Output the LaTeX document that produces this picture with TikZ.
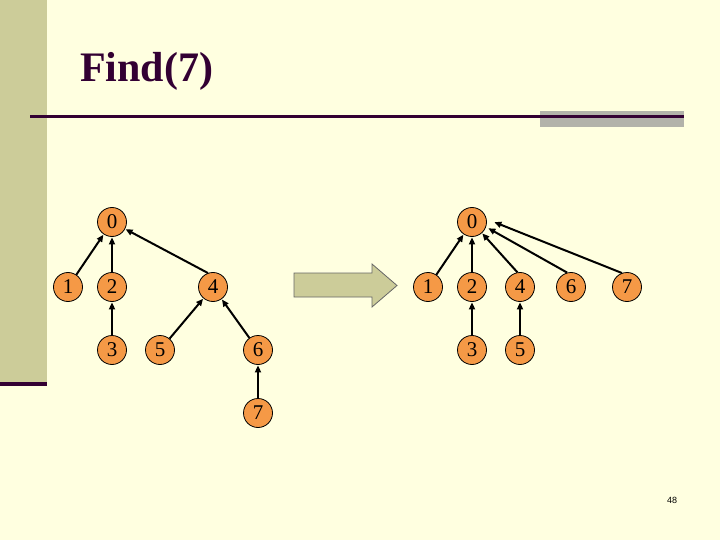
\documentclass[tikz,border=0pt]{standalone}
\usepackage{fontspec}
\setmainfont{Liberation Serif}
\setsansfont{Liberation Sans}
\usetikzlibrary{arrows.meta}
\definecolor{bg}{RGB}{255,255,224}
\definecolor{bar}{RGB}{204,204,153}
\definecolor{dpurple}{RGB}{51,0,51}
\definecolor{orng}{RGB}{245,153,70}
\definecolor{rgray}{RGB}{178,178,170}
\tikzset{
  vtx/.style={circle,draw=black,line width=0.8pt,fill=orng,minimum size=29pt,inner sep=0pt,font=\fontsize{21}{21}\selectfont},
  link/.style={-{Triangle[length=7pt,width=6pt]},line width=2pt,shorten >=0.5pt}
}
\begin{document}
\begin{tikzpicture}[x=1pt,y=-1pt]
\useasboundingbox (0,0) rectangle (720,540);
\fill[bg] (0,0) rectangle (720,540);
\fill[bar] (0,0) rectangle (47,383);
\fill[dpurple] (0,382) rectangle (47,386);
\fill[rgray] (540,111) rectangle (684,127);
\draw[dpurple,line width=3pt] (30,117) -- (684,117);
\node[anchor=base west,text=dpurple,font=\fontsize{42}{42}\selectfont\bfseries,inner sep=0pt] (title) at (80,82) {Find(7)};
% left tree
\node[vtx] (a0) at (112,222) {0};
\node[vtx] (a1) at (68,287) {1};
\node[vtx] (a2) at (112,287) {2};
\node[vtx] (a4) at (213,287) {4};
\node[vtx] (a3) at (112,350) {3};
\node[vtx] (a5) at (160,350) {5};
\node[vtx] (a6) at (258,350) {6};
\node[vtx] (a7) at (258,413) {7};
\draw[link] (a1) -- (a0);
\draw[link] (a2) -- (a0);
\draw[link] (a4.110) -- (a0);
\draw[link] (a3) -- (a2);
\draw[link] (a5) -- (a4);
\draw[link] (a6) -- (a4);
\draw[link] (a7) -- (a6);
% block arrow
\draw[draw=black!60,line width=0.8pt,fill=bar] (294,273) -- (372,273) -- (372,264) -- (397,285.5) -- (372,307) -- (372,297) -- (294,297) -- cycle;
% right tree
\node[vtx] (b0) at (472,222) {0};
\node[vtx] (b1) at (428,287) {1};
\node[vtx] (b2) at (472,287) {2};
\node[vtx] (b4) at (520,287) {4};
\node[vtx] (b6) at (571,287) {6};
\node[vtx] (b7) at (627,287) {7};
\node[vtx] (b3) at (472,350) {3};
\node[vtx] (b5) at (520,350) {5};
\coordinate (t6) at ([xshift=1pt,yshift=-6pt]b0.east);
\coordinate (t7) at ([xshift=7pt]b0.east);
\draw[link] (b1) -- (b0);
\draw[link] (b2) -- (b0);
\draw[link] (b4.100) -- (b0);
\draw[link] (b6.105) -- (t6);
\draw[link] (b7.110) -- (t7);
\draw[link] (b3) -- (b2);
\draw[link] (b5) -- (b4);
\node[font=\sffamily\fontsize{9}{9}\selectfont] (pg) at (672,500) {48};
\end{tikzpicture}
\end{document}
